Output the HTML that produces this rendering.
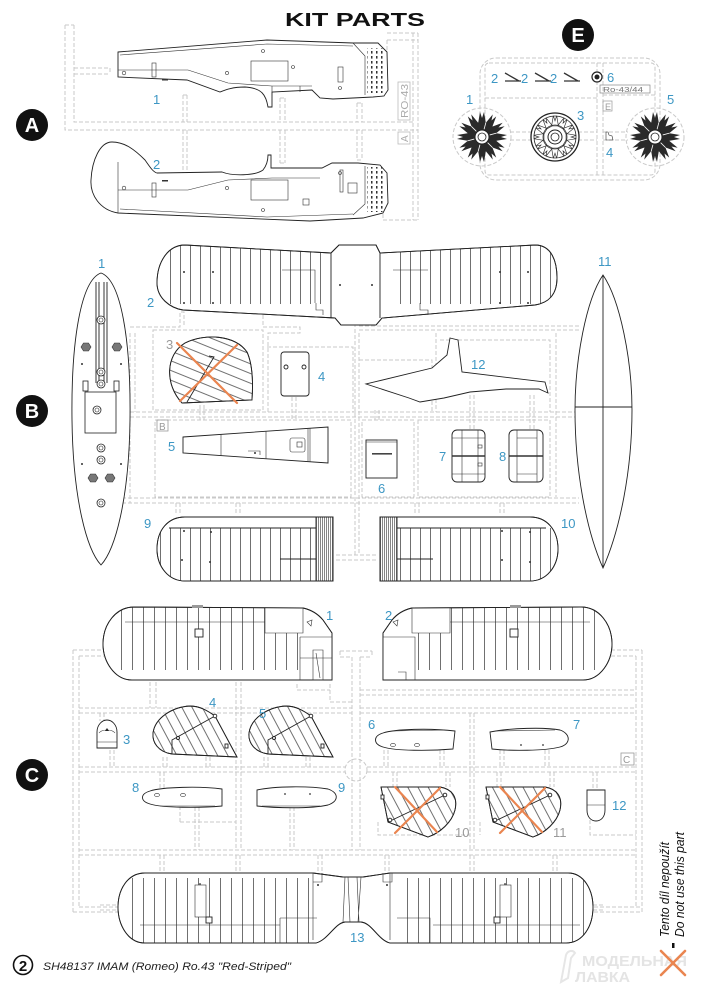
<!DOCTYPE html>
<html><head><meta charset="utf-8">
<style>
html,body{margin:0;padding:0;background:#fff;}
svg{display:block}
.o{fill:none;stroke:#222;stroke-width:0.9}
.of{fill:#fff;stroke:#222;stroke-width:0.9}
.s{fill:none;stroke:#c9c9c9;stroke-width:1;stroke-dasharray:4 2}
.t{fill:none;stroke:#333;stroke-width:0.6}
.lb{fill:#3d97c4;font-family:"Liberation Sans",sans-serif;font-size:13px}
.gl{fill:#9a9a9a;font-family:"Liberation Sans",sans-serif;font-size:13px}
.x{stroke:#ea8550;stroke-width:2.2;stroke-linecap:round}
.d{fill:#222}
</style></head><body>
<svg width="703" height="1000" viewBox="0 0 703 1000" xmlns="http://www.w3.org/2000/svg">
<defs>
<pattern id="rib" width="10" height="10" patternUnits="userSpaceOnUse"><line x1="0.5" y1="0" x2="0.5" y2="10" stroke="#333" stroke-width="0.7"/></pattern>
<pattern id="rib11" width="11" height="10" patternUnits="userSpaceOnUse"><line x1="0.5" y1="0" x2="0.5" y2="10" stroke="#333" stroke-width="0.7"/></pattern>
<pattern id="hb" width="9" height="9" patternUnits="userSpaceOnUse" patternTransform="rotate(22)"><line x1="0" y1="0.5" x2="9" y2="0.5" stroke="#333" stroke-width="0.7"/></pattern>
<pattern id="hc" width="9" height="9" patternUnits="userSpaceOnUse" patternTransform="rotate(62)"><line x1="0" y1="0.5" x2="9" y2="0.5" stroke="#333" stroke-width="0.7"/></pattern>
<pattern id="dn" width="2" height="10" patternUnits="userSpaceOnUse"><line x1="0.5" y1="0" x2="0.5" y2="10" stroke="#333" stroke-width="0.6"/></pattern>
<pattern id="nd" width="5" height="5" patternUnits="userSpaceOnUse"><rect x="1" y="1" width="1.5" height="2.6" fill="#333"/></pattern>
<polygon id="sp" points="-4,-13 -2,-25 0,-19 2,-25 4,-13" />
<clipPath id="cB2L"><path d="M331,253 L185,245 C168,245 157,262 157,283 C157,298 170,308 183,310 L335,318 Z"/></clipPath>
<clipPath id="cB2R"><path d="M380,253 L535,245 C552,245 557,262 557,278 C557,295 548,303 535,305 L382,318 Z"/></clipPath>
<clipPath id="cB9"><path d="M316,517 L185,517 C168,517 157,530 157,549 C157,566 168,581 185,581 L316,581 Z"/></clipPath>
<clipPath id="cB10"><path d="M397,517 L530,517 C547,517 558,530 558,549 C558,566 547,581 530,581 L397,581 Z"/></clipPath>
<clipPath id="cC1"><path d="M134,607 L303,608 C312,610 318,614 323,620 L332,633 L332,680 L132,680 C115,680 103,662 103,644 C103,624 116,607 134,607 Z"/></clipPath>
<clipPath id="cC2"><path d="M383,633 L392,620 C397,614 403,610 412,608 L581,607 C599,607 612,624 612,644 C612,662 600,680 583,680 L383,680 Z"/></clipPath>
<clipPath id="cC13"><path d="M313,873 L343,877 L363,877 L390,873 L568,873 C584,873 593,890 593,907 C593,926 583,943 566,943 L390,943 C378,940 372,923 361,922 L345,922 C335,923 328,940 316,943 L145,943 C128,943 118,925 118,907 C118,889 128,873 145,873 Z"/></clipPath>
<clipPath id="cB3"><path d="M182,403 C165,385 165,355 185,343 C205,333 235,335 247,352 C253,365 253,385 252,400 Z"/></clipPath>
<clipPath id="cC4"><path d="M237,757 L172,754 C158,752 152,742 153,733 C155,718 172,707 190,706 C200,706 208,711 215,716 Z"/></clipPath>
<clipPath id="cC10"><path d="M381,787 L440,787 C452,789 458,797 455,810 C452,822 440,833 428,837 L388,822 Z"/></clipPath>
</defs>
<rect width="703" height="1000" fill="#fff"/>

<!-- ===== TITLE ===== -->
<text x="285" y="26" font-family="Liberation Sans, sans-serif" font-weight="bold" font-size="18" textLength="140" lengthAdjust="spacingAndGlyphs" fill="#111">KIT PARTS</text>

<!-- ===== SECTION A ===== -->
<g class="s">
<path d="M65,25 V130 H418 M74,25 V122 H413 M65,25 H74"/>
<path d="M74,68 H110 M74,74 H110 M110,68 V74"/>
<path d="M183,95 V122 M187,95 V122 M183,95 H187 M183,130 V175 M187,130 V175 M183,175 H187"/>
<path d="M280,98 V122 M285,98 V122 M280,98 H285 M280,130 V163 M285,130 V163 M280,163 H285"/>
<path d="M357,103 V122 M362,103 V122 M357,103 H362 M357,130 V160 M362,130 V160 M357,160 H362"/>
<path d="M413,33 V220 M418,33 V220 M387,40 H418 M387,40 V55 M383,190 V220 H418 M387,33 H418"/>
</g>
<rect x="398" y="82" width="12" height="38" fill="none" stroke="#bbb" stroke-width="0.8"/>
<text transform="translate(408,118) rotate(-90)" font-family="Liberation Sans, sans-serif" font-size="10" fill="#aaa" textLength="34" lengthAdjust="spacingAndGlyphs">RO-43</text>
<rect x="398" y="132" width="12" height="12" fill="none" stroke="#bbb" stroke-width="0.8"/>
<text transform="translate(408,142) rotate(-90)" font-family="Liberation Sans, sans-serif" font-size="10" fill="#aaa">A</text>

<circle cx="32" cy="125" r="16" fill="#111"/>
<text x="32" y="132" text-anchor="middle" font-family="Liberation Sans, sans-serif" font-weight="bold" font-size="20" fill="#fff">A</text>

<!-- fuselage 1 -->
<path class="of" d="M118,52 L267,40 L353,43 L378,43 L387,52 L388,90 L384,96 L373,97 L333,99 L320,98 L312,90 L272,92 L272,107 L268,107 C266,95 262,88 245,87 C232,87 225,90 220,92 L187,80 L118,77 Z"/>
<path class="t" d="M120,55 L267,44 L353,46 M118,70 L188,70 L228,83 L272,86 L312,86 M353,43 L365,56 L365,95 M272,92 L272,86 M300,92 L300,86"/>
<rect class="t" x="251" y="61" width="37" height="20"/>
<rect x="367" y="48" width="19" height="45" fill="url(#nd)"/>
<rect class="t" x="338" y="67" width="5" height="15"/>
<rect class="t" x="152" y="63" width="4" height="14"/>
<g class="t"><circle cx="124" cy="73" r="1.8"/><circle cx="227" cy="73" r="1.6"/><circle cx="263" cy="51" r="1.5"/><circle cx="293" cy="67" r="1.5"/><circle cx="340" cy="88" r="1.5"/></g>
<rect x="162" y="79" width="6" height="1.5" fill="#333"/>

<!-- fuselage 2 -->
<path class="of" d="M118,213 C100,210 90,195 91,180 C92,160 100,142 112,142 C125,142 135,150 145,160 C150,167 153,172 157,173 L222,172 C232,176 255,176 263,170 C267,165 268,160 268,155 L271,155 L271,168 L322,168 L332,163 L358,163 L380,165 L387,173 L388,203 L383,213 L363,218 L310,221 Z"/>
<path class="t" d="M118,162 V213 M120,209 L267,217 L353,214 M118,190 L188,190 L228,180 L272,178 L320,178 M353,215 L365,204 L365,166"/>
<rect class="t" x="251" y="180" width="37" height="20"/>
<rect x="367" y="167" width="19" height="45" fill="url(#nd)"/>
<rect class="t" x="340" y="170" width="3" height="22"/>
<rect class="t" x="348" y="183" width="9" height="10"/>
<rect class="t" x="303" y="199" width="6" height="6"/>
<rect class="t" x="152" y="183" width="4" height="14"/>
<g class="t"><circle cx="124" cy="188" r="1.8"/><circle cx="227" cy="188" r="1.6"/><circle cx="263" cy="210" r="1.5"/><circle cx="340" cy="173" r="1.5"/></g>
<rect x="162" y="180" width="6" height="1.5" fill="#333"/>

<text class="lb" x="153" y="104">1</text>
<text class="lb" x="153" y="169">2</text>

<!-- ===== SECTION E ===== -->
<circle cx="578" cy="35" r="16" fill="#111"/>
<text x="578" y="42" text-anchor="middle" font-family="Liberation Sans, sans-serif" font-weight="bold" font-size="20" fill="#fff">E</text>
<g class="s">
<rect x="480" y="58" width="180" height="122" rx="16"/>
<rect x="485" y="63" width="170" height="112" rx="4"/>
<path d="M485,98 H597 M597,63 V175 M603,63 V175 M603,95 H655"/>
<path d="M510,132 H532 M510,140 H532 M578,132 H597 M578,140 H597 M603,132 H628 M603,140 H628"/>
<circle cx="482" cy="137" r="29"/>
<circle cx="655" cy="137" r="29"/>
</g>
<!-- wheel 1 -->
<g transform="translate(482,137)">
<circle r="15" fill="#2a2a2a"/>
<g fill="#2a2a2a"><use href="#sp"/><use href="#sp" transform="rotate(30)"/><use href="#sp" transform="rotate(60)"/><use href="#sp" transform="rotate(90)"/><use href="#sp" transform="rotate(120)"/><use href="#sp" transform="rotate(150)"/><use href="#sp" transform="rotate(180)"/><use href="#sp" transform="rotate(210)"/><use href="#sp" transform="rotate(240)"/><use href="#sp" transform="rotate(270)"/><use href="#sp" transform="rotate(300)"/><use href="#sp" transform="rotate(330)"/></g>
<g stroke="#fff" stroke-width="0.8"><line x1="0" y1="-8" x2="0" y2="-15" transform="rotate(15)"/><line x1="0" y1="-8" x2="0" y2="-15" transform="rotate(75)"/><line x1="0" y1="-8" x2="0" y2="-15" transform="rotate(135)"/><line x1="0" y1="-8" x2="0" y2="-15" transform="rotate(195)"/><line x1="0" y1="-8" x2="0" y2="-15" transform="rotate(255)"/><line x1="0" y1="-8" x2="0" y2="-15" transform="rotate(315)"/></g>
<circle r="7" fill="#fff" stroke="#222"/><circle r="4" fill="none" stroke="#222" stroke-width="0.8"/>
</g>
<!-- wheel 5 -->
<g transform="translate(655,137)">
<circle r="15" fill="#2a2a2a"/>
<g fill="#2a2a2a"><use href="#sp"/><use href="#sp" transform="rotate(30)"/><use href="#sp" transform="rotate(60)"/><use href="#sp" transform="rotate(90)"/><use href="#sp" transform="rotate(120)"/><use href="#sp" transform="rotate(150)"/><use href="#sp" transform="rotate(180)"/><use href="#sp" transform="rotate(210)"/><use href="#sp" transform="rotate(240)"/><use href="#sp" transform="rotate(270)"/><use href="#sp" transform="rotate(300)"/><use href="#sp" transform="rotate(330)"/></g>
<g stroke="#fff" stroke-width="0.8"><line x1="0" y1="-8" x2="0" y2="-15" transform="rotate(15)"/><line x1="0" y1="-8" x2="0" y2="-15" transform="rotate(75)"/><line x1="0" y1="-8" x2="0" y2="-15" transform="rotate(135)"/><line x1="0" y1="-8" x2="0" y2="-15" transform="rotate(195)"/><line x1="0" y1="-8" x2="0" y2="-15" transform="rotate(255)"/><line x1="0" y1="-8" x2="0" y2="-15" transform="rotate(315)"/></g>
<circle r="7" fill="#fff" stroke="#222"/><circle r="4" fill="none" stroke="#222" stroke-width="0.8"/>
</g>
<!-- wheel 3 -->
<g transform="translate(555,137)">
<circle r="24" fill="#fff" stroke="#222" stroke-width="1.3"/>
<circle r="21" fill="none" stroke="#222" stroke-width="0.8"/>
<g fill="none" stroke="#333" stroke-width="0.8"><use href="#sp" transform="scale(0.85)"/><use href="#sp" transform="rotate(30) scale(0.85)"/><use href="#sp" transform="rotate(60) scale(0.85)"/><use href="#sp" transform="rotate(90) scale(0.85)"/><use href="#sp" transform="rotate(120) scale(0.85)"/><use href="#sp" transform="rotate(150) scale(0.85)"/><use href="#sp" transform="rotate(180) scale(0.85)"/><use href="#sp" transform="rotate(210) scale(0.85)"/><use href="#sp" transform="rotate(240) scale(0.85)"/><use href="#sp" transform="rotate(270) scale(0.85)"/><use href="#sp" transform="rotate(300) scale(0.85)"/><use href="#sp" transform="rotate(330) scale(0.85)"/></g>
<circle r="12" fill="none" stroke="#333" stroke-width="0.8"/>
<circle r="7" fill="#fff" stroke="#222"/><circle r="4" fill="none" stroke="#222" stroke-width="0.8"/>
</g>
<!-- small parts 2 -->
<g stroke="#333" stroke-width="1.3" fill="none">
<path d="M505,73 L519,81 M505,81 H521"/>
<path d="M535,73 L549,81 M535,81 H551"/>
<path d="M564,73 L578,81 M564,81 H580"/>
</g>
<circle cx="597" cy="77" r="5" fill="#fff" stroke="#222" stroke-width="1.2"/>
<circle cx="597" cy="77" r="2.5" fill="#222"/>
<rect x="600" y="85" width="50" height="8" fill="none" stroke="#888" stroke-width="0.7"/>
<text x="603" y="92" font-family="Liberation Sans, sans-serif" font-size="7.5" fill="#777" textLength="40" lengthAdjust="spacingAndGlyphs">Ro-43/44</text>
<rect x="603" y="101" width="9" height="10" fill="none" stroke="#999" stroke-width="0.7"/>
<text x="605" y="110" font-family="Liberation Sans, sans-serif" font-size="9" fill="#999">E</text>
<path class="t" d="M606,132 V140 H613 L612,136 L609,135 L608,132 Z"/>
<g class="lb">
<text x="491" y="83">2</text><text x="521" y="83">2</text><text x="550" y="83">2</text>
<text x="607" y="82">6</text><text x="466" y="104">1</text><text x="577" y="120">3</text>
<text x="667" y="104">5</text><text x="606" y="157">4</text>
</g>

<!-- ===== SECTION B ===== -->
<g class="s">
<path d="M130,327 H180 V312 H184 V327 M130,333 V503 M135,333 V412"/>
<rect x="153" y="330" width="110" height="80"/>
<path d="M263,315 V327 H300 V333 H268 V412 M267,347 H353 V412"/>
<path d="M355,305 V555 M359,333 V555 M336,555 H378 M336,560 H378"/>
<path d="M359,330 H579 M359,326 H579 M359,360 H432 V412 M436,333 V412 M440,340 H550 V412 M556,333 V497"/>
<path d="M130,412 H579 M130,417 H579"/>
<rect x="155" y="420" width="196" height="77"/>
<rect x="362" y="420" width="52" height="77"/>
<rect x="418" y="420" width="132" height="77"/>
<path d="M122,498 H579 M122,503 H579"/>
<path d="M176,503 V514 M180,503 V514 M236,503 V514 M240,503 V514 M415,503 V514 M419,503 V514 M500,503 V514 M504,503 V514"/>
<path d="M200,405 V420 M204,405 V420 M292,397 V420 M296,397 V420 M375,410 V422 M379,410 V422 M470,395 V430 M474,395 V430 M530,395 V430 M534,395 V430"/>
</g>
<circle cx="32" cy="411" r="16" fill="#111"/>
<text x="32" y="418" text-anchor="middle" font-family="Liberation Sans, sans-serif" font-weight="bold" font-size="20" fill="#fff">B</text>
<rect x="157" y="420" width="11" height="11" fill="none" stroke="#999" stroke-width="0.8"/>
<text x="159" y="430" font-family="Liberation Sans, sans-serif" font-size="10" fill="#999">B</text>

<!-- B1 -->
<path class="of" d="M101,273 C121,280 131,340 130,420 C129,500 115,550 101,565 C87,550 73,500 72,420 C71,340 81,280 101,273 Z"/>
<path class="o" d="M96,282 V383 M99,282 V383 M104,282 V383 M107,282 V383"/>
<g fill="#fff" stroke="#222" stroke-width="0.8">
<circle cx="101" cy="320" r="4"/><circle cx="101" cy="372" r="4"/><circle cx="101" cy="384" r="4"/>
<rect x="83" y="381" width="5" height="10"/><rect x="114" y="381" width="5" height="10"/>
<rect x="85" y="392" width="31" height="41"/>
<circle cx="97" cy="410" r="4"/>
<circle cx="101" cy="448" r="4"/><circle cx="101" cy="460" r="4"/><circle cx="101" cy="503" r="4"/>
</g>
<g fill="none" stroke="#222" stroke-width="0.6"><circle cx="101" cy="320" r="2"/><circle cx="101" cy="372" r="2"/><circle cx="101" cy="384" r="2"/><circle cx="97" cy="410" r="2"/><circle cx="101" cy="448" r="2"/><circle cx="101" cy="460" r="2"/><circle cx="101" cy="503" r="2"/></g>
<g fill="#777" stroke="#333" stroke-width="0.6">
<polygon points="81,347 83.5,343 88.5,343 91,347 88.5,351 83.5,351"/>
<polygon points="112,347 114.5,343 119.5,343 122,347 119.5,351 114.5,351"/>
<polygon points="88,478 90.5,474 95.5,474 98,478 95.5,482 90.5,482"/>
<polygon points="105,478 107.5,474 112.5,474 115,478 112.5,482 107.5,482"/>
</g>
<g fill="#333"><circle cx="82" cy="364" r="1"/><circle cx="121" cy="364" r="1"/><circle cx="82" cy="464" r="1"/><circle cx="121" cy="464" r="1"/></g>

<!-- B2 -->
<path class="of" d="M339,245 L376,245 L380,253 L535,245 C552,245 557,262 557,278 C557,295 548,303 535,305 L382,318 L376,325 L341,325 L335,318 L183,310 C170,308 157,298 157,283 C157,262 168,245 185,245 L331,253 Z"/>
<rect x="168" y="244" width="160" height="60" fill="url(#rib)" clip-path="url(#cB2L)"/>
<rect x="392" y="244" width="160" height="60" fill="url(#rib)" clip-path="url(#cB2R)"/>
<path class="o" d="M339,245 L376,245 L380,253 L535,245 C552,245 557,262 557,278 C557,295 548,303 535,305 L382,318 L376,325 L341,325 L335,318 L183,310 C170,308 157,298 157,283 C157,262 168,245 185,245 L331,253 Z M331,253 V318 M380,253 V318"/>
<path class="t" d="M282,270 H315 V303 M393,270 H428 M420,303 V310 H428 V315 M316,303 V310 H323 V315"/>
<g fill="#333"><circle cx="184" cy="272" r="1"/><circle cx="213" cy="272" r="1"/><circle cx="184" cy="303" r="1"/><circle cx="213" cy="303" r="1"/><circle cx="340" cy="285" r="1"/><circle cx="372" cy="285" r="1"/><circle cx="500" cy="272" r="1"/><circle cx="528" cy="272" r="1"/><circle cx="500" cy="303" r="1"/><circle cx="528" cy="303" r="1"/></g>

<!-- B3 -->
<path class="of" d="M182,403 C165,385 165,355 185,343 C205,333 235,335 247,352 C253,365 253,385 252,400 Z"/>
<rect x="160" y="330" width="100" height="80" fill="url(#hb)" clip-path="url(#cB3)"/>
<path class="o" d="M182,403 C165,385 165,355 185,343 C205,333 235,335 247,352 C253,365 253,385 252,400 Z M209,356 L214,357 L187,402"/>
<line class="x" x1="177" y1="343" x2="237" y2="403"/>
<line class="x" x1="237" y1="345" x2="180" y2="401"/>

<!-- B4 -->
<rect class="of" x="281" y="352" width="28" height="44" rx="3"/>
<circle class="o" cx="286" cy="367" r="2"/><circle class="o" cx="304" cy="367" r="2"/>

<!-- B12 -->
<path class="of" d="M450,338 L458,340 L462,372 L545,382 L548,393 L539,389 L506,389 L470,392 L444,398 L420,402 L409,398 L366,384 L432,368 L447,355 Z"/>

<!-- B5 -->
<path class="of" d="M183,437 L328,427 L328,463 L183,453 Z"/>
<path class="t" d="M221,434 V456 M266,431 V459 M308,428 V462 M310,428 V462 M248,451 H260 V455"/>
<rect class="t" x="290" y="438" width="15" height="14" rx="2"/><rect class="t" x="297" y="442" width="5" height="5"/>
<circle cx="255" cy="453" r="1" fill="#333"/>

<!-- B6 -->
<rect class="of" x="366" y="440" width="31" height="38"/>
<path class="t" d="M366,442 H397"/>
<rect x="372" y="453" width="20" height="1.6" fill="#444"/>

<!-- B7 / B8 -->
<g>
<rect class="of" x="452" y="430" width="33" height="52" rx="5"/>
<path class="t" d="M462,430 V482 M478,430 V482 M452,438 H485 M452,474 H485"/>
<path d="M452,456 H485" stroke="#333" stroke-width="1.4"/>
<rect class="t" x="478" y="445" width="4" height="3"/><rect class="t" x="478" y="463" width="4" height="3"/>
<rect class="of" x="509" y="430" width="34" height="52" rx="5"/>
<path class="t" d="M517,430 V482 M537,430 V482 M517,438 H537 M517,474 H537"/>
<path d="M509,456 H543" stroke="#333" stroke-width="1.4"/>
</g>

<!-- B11 -->
<path class="of" d="M603,275 C620,300 632,360 632,410 C632,470 620,530 603,568 C586,530 575,470 575,410 C575,360 586,300 603,275 Z"/>
<path class="o" d="M603,275 V568 M575,407 H632"/>

<!-- B9 -->
<path class="of" d="M333,517 L333,581 L185,581 C168,581 157,566 157,549 C157,530 168,517 185,517 Z"/>
<rect x="160" y="528" width="158" height="53" fill="url(#rib)" clip-path="url(#cB9)"/>
<rect x="316" y="517" width="17" height="64" fill="url(#dn)"/>
<path class="o" d="M333,517 L333,581 L185,581 C168,581 157,566 157,549 C157,530 168,517 185,517 Z M169,528 H316 M280,559 H316 M316,517 V581"/>
<g fill="#333"><circle cx="184" cy="531" r="1"/><circle cx="211" cy="532" r="1"/><circle cx="182" cy="560" r="1"/><circle cx="210" cy="562" r="1"/></g>
<!-- B10 -->
<path class="of" d="M380,517 L530,517 C547,517 558,530 558,549 C558,566 547,581 530,581 L380,581 Z"/>
<rect x="397" y="528" width="158" height="53" fill="url(#rib)" clip-path="url(#cB10)"/>
<rect x="380" y="517" width="17" height="64" fill="url(#dn)"/>
<path class="o" d="M380,517 L530,517 C547,517 558,530 558,549 C558,566 547,581 530,581 L380,581 Z M397,528 H546 M397,559 H433 M397,517 V581"/>
<g fill="#333"><circle cx="502" cy="531" r="1"/><circle cx="530" cy="532" r="1"/><circle cx="502" cy="560" r="1"/><circle cx="530" cy="562" r="1"/></g>

<g class="lb">
<text x="98" y="268">1</text><text x="147" y="307">2</text><text x="318" y="381">4</text>
<text x="471" y="369">12</text><text x="168" y="451">5</text><text x="378" y="493">6</text>
<text x="439" y="461">7</text><text x="499" y="461">8</text><text x="144" y="528">9</text>
<text x="561" y="528">10</text><text x="598" y="266">11</text>
</g>
<text class="gl" x="166" y="349">3</text>

<!-- ===== SECTION C ===== -->
<g class="s">
<path d="M73,650 V912 M79,656 V907 M73,650 H104 M79,656 H104 M611,650 H642 M611,656 H636 M642,650 V912 M636,656 V907"/>
<path d="M340,651 H372 M340,657 H352 M360,657 H372 M340,651 V657 M372,651 V657"/>
<path d="M352,657 V850 M360,657 V850"/>
<path d="M79,708 H352 M79,713 H352 M360,690 H636 M360,695 H636 M360,708 H636 M360,713 H636"/>
<path d="M79,767 H345 M79,772 H345 M367,767 H636 M367,772 H636"/>
<path d="M79,850 H636 M79,855 H636 M73,912 H120 M79,907 H120 M594,907 H642 M594,912 H642"/>
<path d="M236,682 V850 M241,682 V850 M470,713 V850 M474,713 V850"/>
<path d="M150,682 V708 M156,682 V708 M297,690 H330 M297,684 V690 M330,684 V702 H352"/>
<path d="M100,713 V721 M104,713 V721 M110,750 V767 M114,750 V767 M163,757 V767 M167,757 V767 M206,757 V767 M210,757 V767 M264,757 V767 M268,757 V767 M306,757 V767 M310,757 V767"/>
<path d="M384,750 V767 M388,750 V767 M440,750 V767 M444,750 V767 M500,750 V767 M504,750 V767 M545,750 V767 M549,750 V767"/>
<path d="M160,772 V790 M164,772 V790 M195,807 V850 M199,807 V850 M290,807 V850 M294,807 V850 M393,772 V787 M397,772 V787 M446,772 V787 M450,772 V787 M497,772 V787 M501,772 V787 M550,772 V787 M554,772 V787 M593,772 V790 M597,772 V790"/>
<path d="M180,822 H236 M180,822 V807 M378,822 V835 H470 M480,822 V835 H480 M590,820 V835 H636"/>
<path d="M160,855 V873 M164,855 V873 M236,855 V873 M240,855 V873 M318,855 V873 M322,855 V873 M385,855 V873 M389,855 V873 M470,855 V873 M474,855 V873 M553,855 V873 M557,855 V873"/>
<path d="M100,905 H118 M100,910 H118 M593,905 H605 M593,910 H605"/>
<circle cx="356" cy="770" r="11"/>
</g>
<circle cx="32" cy="775" r="16" fill="#111"/>
<text x="32" y="782" text-anchor="middle" font-family="Liberation Sans, sans-serif" font-weight="bold" font-size="20" fill="#fff">C</text>
<rect x="621" y="753" width="13" height="12" fill="none" stroke="#999" stroke-width="0.8"/>
<text x="623" y="763" font-family="Liberation Sans, sans-serif" font-size="10" fill="#999">C</text>

<!-- C1 -->
<path class="of" d="M134,607 L303,608 C312,610 318,614 323,620 L332,633 L332,680 L132,680 C115,680 103,662 103,644 C103,624 116,607 134,607 Z"/>
<rect x="118" y="607" width="182" height="63" fill="url(#rib11)" clip-path="url(#cC1)"/>
<rect x="265" y="608" width="38" height="25" fill="#fff"/>
<rect x="300" y="637" width="32" height="43" fill="#fff"/>
<path class="o" d="M134,607 L303,608 C312,610 318,614 323,620 L332,633 L332,680 L132,680 C115,680 103,662 103,644 C103,624 116,607 134,607 Z"/>
<path class="t" d="M125,622 H265 M265,608 V633 H303 V608 M300,637 H332 M300,637 V680 M300,658 H332 M313,650 V680 H323 V650 Z M316,653 L320,678"/>
<rect class="of" x="195" y="629" width="8" height="8"/><rect x="192" y="605" width="11" height="3" fill="#999"/>
<path class="t" d="M307,622 L312,620 L311,626 Z"/>
<!-- C2 -->
<path class="of" d="M383,633 L392,620 C397,614 403,610 412,608 L581,607 C599,607 612,624 612,644 C612,662 600,680 583,680 L383,680 Z"/>
<rect x="415" y="607" width="182" height="63" fill="url(#rib11)" clip-path="url(#cC2)"/>
<rect x="412" y="608" width="38" height="25" fill="#fff"/>
<rect x="383" y="637" width="32" height="43" fill="#fff"/>
<path class="o" d="M383,633 L392,620 C397,614 403,610 412,608 L581,607 C599,607 612,624 612,644 C612,662 600,680 583,680 L383,680 Z"/>
<path class="t" d="M450,622 H590 M412,608 V633 H450 V608 M383,637 H415 V680 M398,672 H406 V680"/>
<rect class="of" x="510" y="629" width="8" height="8"/><rect x="510" y="605" width="11" height="3" fill="#999"/>
<path class="t" d="M393,622 L398,620 L397,626 Z"/>

<!-- C3 -->
<path class="of" d="M97,748 L97,732 C97,725 102,720 107,720 C112,720 117,725 117,732 L117,748 Z"/>
<path class="t" d="M97,742 H117 M99,733 C102,729 112,729 115,733"/>
<path d="M107,728 L105,731 H109 Z" fill="#222"/>

<!-- C4 / C5 -->
<g>
<path class="of" d="M237,757 L172,754 C158,752 152,742 153,733 C155,718 172,707 190,706 C200,706 208,711 215,716 Z"/>
<rect x="150" y="700" width="90" height="60" fill="url(#hc)" clip-path="url(#cC4)"/>
<path class="o" d="M237,757 L172,754 C158,752 152,742 153,733 C155,718 172,707 190,706 C200,706 208,711 215,716 Z M172,754 V740 L215,716"/>
<circle class="of" cx="215" cy="716" r="1.8"/><circle class="of" cx="178" cy="738" r="1.5"/><rect class="of" x="225" y="744" width="3" height="4"/>
</g>
<g transform="translate(96,0)">
<path class="of" d="M237,757 L172,754 C158,752 152,742 153,733 C155,718 172,707 190,706 C200,706 208,711 215,716 Z"/>
<rect x="150" y="700" width="90" height="60" fill="url(#hc)" clip-path="url(#cC4)"/>
<path class="o" d="M237,757 L172,754 C158,752 152,742 153,733 C155,718 172,707 190,706 C200,706 208,711 215,716 Z M172,754 V740 L215,716"/>
<circle class="of" cx="215" cy="716" r="1.8"/><circle class="of" cx="178" cy="738" r="1.5"/><rect class="of" x="225" y="744" width="3" height="4"/>
</g>

<!-- C6 / C7 / C8 / C9 -->
<path class="of" d="M383,733 C395,729 430,728 455,731 L453,749 C430,751 395,751 383,747 C373,744 373,736 383,733 Z"/>
<path class="t" d="M393,731 L445,730"/><ellipse class="t" cx="393" cy="745" rx="2.5" ry="1.6"/><ellipse class="t" cx="417" cy="745" rx="2.5" ry="1.6"/>
<path class="of" d="M490,732 C510,728 545,727 560,730 C571,734 571,744 560,747 C545,751 510,751 492,749 Z"/>
<path class="t" d="M495,731 L555,730"/><circle cx="521" cy="745" r="0.9" fill="#333"/><circle cx="543" cy="745" r="0.9" fill="#333"/>
<path class="of" d="M150,791 C162,787 200,786 222,789 L222,806 C200,808 162,808 150,804 C140,801 140,794 150,791 Z"/>
<path class="t" d="M160,806 L215,806"/><ellipse class="t" cx="157" cy="795" rx="2.5" ry="1.6"/><ellipse class="t" cx="183" cy="795" rx="2.5" ry="1.6"/>
<path class="of" d="M257,790 C275,786 310,786 328,789 C339,793 339,801 328,805 C310,809 275,808 257,806 Z"/>
<path class="t" d="M262,806 L320,806"/><circle cx="285" cy="794" r="0.9" fill="#333"/><circle cx="310" cy="794" r="0.9" fill="#333"/>

<!-- C10 / C11 -->
<g>
<path class="of" d="M381,787 L440,787 C452,789 458,797 455,810 C452,822 440,833 428,837 L388,822 Z"/>
<rect x="375" y="780" width="85" height="60" fill="url(#hc)" clip-path="url(#cC10)"/>
<path class="o" d="M381,787 L440,787 C452,789 458,797 455,810 C452,822 440,833 428,837 L388,822 Z M388,822 L445,795"/>
<circle class="of" cx="445" cy="795" r="1.8"/><circle class="of" cx="390" cy="820" r="1.8"/><rect class="of" x="381" y="795" width="3" height="4"/>
<line class="x" x1="395" y1="787" x2="437" y2="832"/><line class="x" x1="440" y1="788" x2="395" y2="833"/>
</g>
<g transform="translate(105,0)">
<path class="of" d="M381,787 L440,787 C452,789 458,797 455,810 C452,822 440,833 428,837 L388,822 Z"/>
<rect x="375" y="780" width="85" height="60" fill="url(#hc)" clip-path="url(#cC10)"/>
<path class="o" d="M381,787 L440,787 C452,789 458,797 455,810 C452,822 440,833 428,837 L388,822 Z M388,822 L445,795"/>
<circle class="of" cx="445" cy="795" r="1.8"/><circle class="of" cx="390" cy="820" r="1.8"/><rect class="of" x="381" y="795" width="3" height="4"/>
<line class="x" x1="395" y1="787" x2="437" y2="832"/><line class="x" x1="440" y1="788" x2="395" y2="833"/>
</g>

<!-- C12 -->
<path class="of" d="M587,790 L605,790 L605,810 C605,817 601,821 596,821 C591,821 587,817 587,810 Z"/>
<path class="t" d="M587,805 H605"/>

<!-- C13 -->
<path class="of" d="M313,873 L343,877 L363,877 L390,873 L568,873 C584,873 593,890 593,907 C593,926 583,943 566,943 L390,943 C378,940 372,923 361,922 L345,922 C335,923 328,940 316,943 L145,943 C128,943 118,925 118,907 C118,889 128,873 145,873 Z"/>
<rect x="125" y="878" width="185" height="65" fill="url(#rib11)" clip-path="url(#cC13)"/>
<rect x="398" y="878" width="190" height="65" fill="url(#rib11)" clip-path="url(#cC13)"/>
<rect x="195" y="885" width="11" height="32" fill="#fff"/>
<rect x="500" y="885" width="11" height="32" fill="#fff"/>
<path class="o" d="M313,873 L343,877 L363,877 L390,873 L568,873 C584,873 593,890 593,907 C593,926 583,943 566,943 L390,943 C378,940 372,923 361,922 L345,922 C335,923 328,940 316,943 L145,943 C128,943 118,925 118,907 C118,889 128,873 145,873 Z"/>
<path class="t" d="M313,873 V940 M390,873 V940 M140,925 H280 M280,918 H317 M280,918 V943 M433,925 H580 M397,918 H430 V943 M345,877 L343,922 M348,877 L350,922 M357,877 L359,922 M361,877 L358,922 M313,873 V882 H322 V873 M383,873 V882 H392 V873"/>
<rect class="t" x="195" y="885" width="11" height="32"/><rect class="of" x="206" y="917" width="6" height="6"/>
<rect class="t" x="500" y="885" width="11" height="32"/><rect class="of" x="494" y="917" width="6" height="6"/>
<g fill="#333"><circle cx="318" cy="885" r="1"/><circle cx="387" cy="885" r="1"/><circle cx="200" cy="884" r="0.9"/><circle cx="505" cy="884" r="0.9"/></g>

<g class="lb">
<text x="326" y="620">1</text><text x="385" y="620">2</text><text x="123" y="744">3</text>
<text x="209" y="707">4</text><text x="259" y="718">5</text><text x="368" y="729">6</text>
<text x="573" y="729">7</text><text x="132" y="792">8</text><text x="338" y="792">9</text>
<text x="612" y="810">12</text><text x="350" y="942">13</text>
</g>
<text class="gl" x="455" y="837">10</text>
<text class="gl" x="553" y="837">11</text>

<!-- ===== FOOTER ===== -->
<circle cx="23" cy="965" r="9.5" fill="none" stroke="#111" stroke-width="1.6"/>
<text x="23" y="971" text-anchor="middle" font-family="Liberation Sans, sans-serif" font-weight="bold" font-size="15" fill="#111">2</text>
<text x="43" y="970" font-family="Liberation Sans, sans-serif" font-style="italic" font-size="11" fill="#222" textLength="248" lengthAdjust="spacingAndGlyphs">SH48137 IMAM (Romeo) Ro.43 "Red-Striped"</text>

<!-- watermark -->
<g fill="#e4e4e4">
<path d="M561,982 L566,955 C568,950 573,950 575,953 L571,958 L568,978 Z" fill="none" stroke="#e6e6e6" stroke-width="2"/>
<text x="582" y="966" font-family="Liberation Sans, sans-serif" font-weight="bold" font-size="15" textLength="105" lengthAdjust="spacingAndGlyphs">МОДЕЛЬНАЯ</text>
<text x="575" y="982" font-family="Liberation Sans, sans-serif" font-weight="bold" font-size="15" textLength="55" lengthAdjust="spacingAndGlyphs">ЛАВКА</text>
</g>

<text transform="translate(669,937) rotate(-90)" font-family="Liberation Sans, sans-serif" font-style="italic" font-size="12.5" fill="#111" textLength="95" lengthAdjust="spacingAndGlyphs">Tento díl nepoužít</text>
<text transform="translate(684,937) rotate(-90)" font-family="Liberation Sans, sans-serif" font-style="italic" font-size="12.5" fill="#111" textLength="105" lengthAdjust="spacingAndGlyphs">Do not use this part</text>
<rect x="672" y="943" width="2.5" height="5" fill="#111"/>
<line class="x" x1="661" y1="951" x2="685" y2="975" style="stroke-width:2.6"/>
<line class="x" x1="685" y1="951" x2="661" y2="975" style="stroke-width:2.6"/>
</svg>
</body></html>
